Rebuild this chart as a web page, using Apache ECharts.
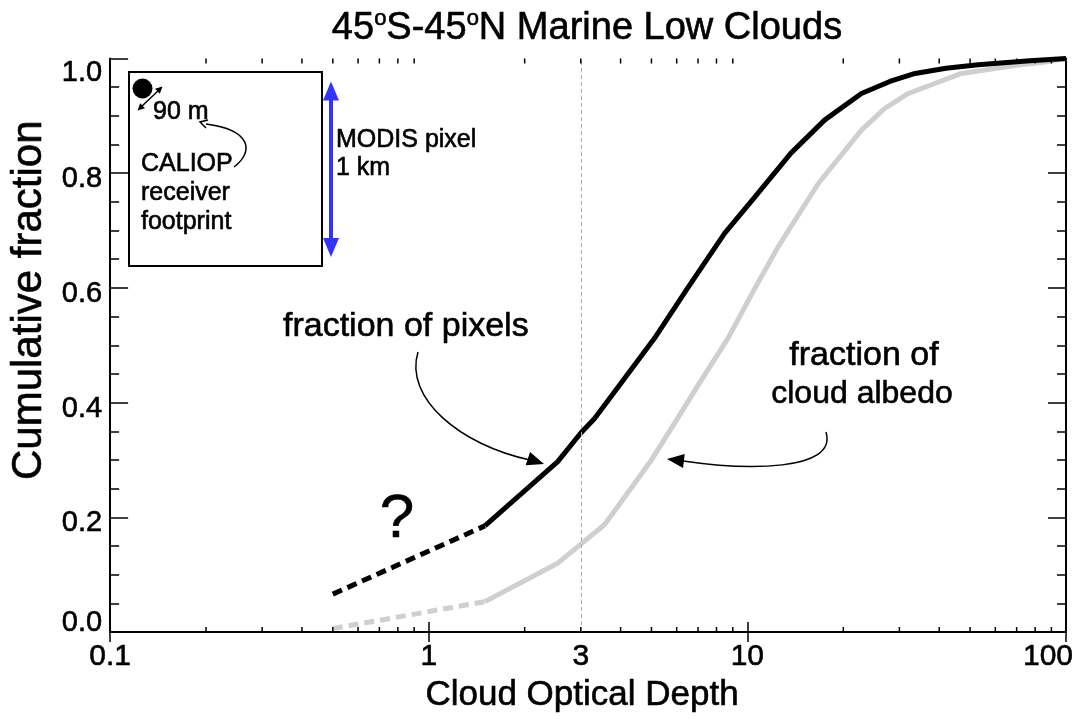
<!DOCTYPE html>
<html>
<head>
<meta charset="utf-8">
<script src="https://cdn.jsdelivr.net/npm/echarts@6/dist/echarts.min.js"></script>
<style>
html,body{margin:0;padding:0;background:#fff;}
#chart{width:1078px;height:719px;}
</style>
</head>
<body>
<div id="chart"></div>
<script>
// ---- data ----
const pixDashTau  = [0.5, 1.5];
const pixDashFrac = [0.066, 0.185];
const pixTau  = [1.5, 2.54, 3.0, 3.31, 4.0, 5.11, 6.5, 8.48, 10.5, 13.7, 17.5, 22.8, 28, 33.6, 42, 53, 77, 100];
const pixFrac = [0.185, 0.297, 0.347, 0.372, 0.433, 0.512, 0.60, 0.695, 0.757, 0.835, 0.893, 0.939, 0.960, 0.974, 0.983, 0.989, 0.996, 1.0];
const albDashTau  = [0.5, 1.5];
const albDashFrac = [0.006, 0.053];
const albTau  = [1.5, 2.54, 3.03, 3.56, 4.02, 5.0, 6.0, 7.0, 8.69, 10.5, 12.5, 16.7, 22.8, 27, 32, 47, 70, 86, 100];
const albFrac = [0.053, 0.12, 0.155, 0.187, 0.227, 0.30, 0.37, 0.43, 0.512, 0.597, 0.672, 0.782, 0.875, 0.913, 0.939, 0.974, 0.988, 0.994, 1.0];
const refTau = 3;
const xMinorTicks = [0.2,0.3,0.4,0.5,0.6,0.7,0.8,0.9,2,3,4,5,6,7,8,9,20,30,40,50,60,70,80,90];
const titleText = '45{s|o}S-45{s|o}N Marine Low Clouds';
const xName = 'Cloud Optical Depth';
const yName = 'Cumulative fraction';

const zip = (a, b) => a.map((v, i) => [v, b[i]]);
const FONT = 'Liberation Sans, Arial, Helvetica, sans-serif';
const BW = 0.6; // slight stroke to mimic heavier glyphs

function arrowHead(tx, ty, dx, dy, len, hw, color) {
  const n = Math.hypot(dx, dy); dx /= n; dy /= n;
  const bx = tx - dx * len, by = ty - dy * len;
  return {type: 'polygon', shape: {points: [[tx, ty], [bx - dy * hw, by + dx * hw], [bx + dy * hw, by - dx * hw]]},
          style: {fill: color}, z: 100};
}
function txt(text, x, y, size, align) {
  return {type: 'text', z: 100, style: {text: text, x: x, y: y, fill: '#000', stroke: '#000', lineWidth: BW,
          font: size + 'px ' + FONT, textAlign: align || 'left', textVerticalAlign: 'middle'}};
}
function ts(size, extra) {
  return Object.assign({fontFamily: FONT, fontSize: size, color: '#000', textBorderColor: '#000', textBorderWidth: BW}, extra || {});
}

const chart = echarts.init(document.getElementById('chart'), null, {renderer: 'canvas'});
const axisLineStyle = {color: '#000', width: 2};
const option = {
  backgroundColor: '#fff',
  animation: false,
  title: {
    text: titleText, left: 582, top: 3, textAlign: 'center',
    textStyle: Object.assign(ts(38), {fontWeight: 'normal',
      rich: {s: ts(22, {padding: [0, 0, 19, 0]})}})
  },
  grid: {left: 110, right: 12, top: 58.5, bottom: 87, containLabel: false},
  xAxis: [{
    type: 'log', logBase: 10, min: 0.1, max: 100, position: 'bottom',
    name: xName, nameLocation: 'middle', nameGap: 40,
    nameTextStyle: ts(35, {padding: [0, 12, 0, 0]}),
    axisLine: {show: true, lineStyle: axisLineStyle},
    axisTick: {show: true, inside: true, length: 10, lineStyle: {color: '#000', width: 1.5}},
    axisLabel: Object.assign(ts(30), {margin: 10,
      formatter: v => (v >= 100 ? '{r|' + v + '}' : String(v)),
      rich: {r: ts(30, {padding: [0, 36, 0, 0]})}}),
    splitLine: {show: false}
  }, {
    type: 'log', logBase: 10, min: 0.1, max: 100, position: 'top',
    axisLine: {show: true, lineStyle: axisLineStyle},
    axisTick: {show: true, inside: true, length: 10, lineStyle: {color: '#000', width: 1.5}},
    axisLabel: {show: false}, splitLine: {show: false}
  }],
  yAxis: [{
    type: 'value', min: 0, max: 1, interval: 0.2, position: 'left',
    name: yName, nameLocation: 'middle', nameGap: 57,
    nameTextStyle: ts(42, {padding: [0, 0, 0, 90]}),
    axisLine: {show: true, lineStyle: axisLineStyle},
    axisTick: {show: true, inside: true, length: 18, lineStyle: {color: '#000', width: 1.5}},
    minorTick: {show: true, splitNumber: 4, length: 9, lineStyle: {color: '#000', width: 1.5}},
    axisLabel: Object.assign(ts(29), {margin: 8,
      formatter: v => {
        const s = v.toFixed(1);
        if (v >= 1) return '{d|' + s + '}';
        if (v <= 0) return '{u|' + s + '}';
        return '{m|' + s + '}';
      },
      rich: {
        d: ts(29, {padding: [28, 0, 0, 0]}),
        u: ts(29, {padding: [0, 0, 18, 0]}),
        m: ts(29, {padding: [12, 0, 0, 0]})
      }}),
    splitLine: {show: false}
  }, {
    type: 'value', min: 0, max: 1, interval: 0.2, position: 'right',
    axisLine: {show: true, lineStyle: axisLineStyle},
    axisTick: {show: true, inside: true, length: 18, lineStyle: {color: '#000', width: 1.5}},
    minorTick: {show: true, splitNumber: 4, length: 9, lineStyle: {color: '#000', width: 1.5}},
    axisLabel: {show: false}, splitLine: {show: false}
  }],
  series: [
    {
      type: 'custom', xAxisIndex: 0, yAxisIndex: 0, silent: true, z: 5,
      data: xMinorTicks.map(v => [v, 0]),
      renderItem: (params, api) => {
        const b = api.coord([api.value(0), 0]);
        const t = api.coord([api.value(0), 1]);
        return {type: 'group', children: [
          {type: 'line', shape: {x1: b[0], y1: b[1], x2: b[0], y2: b[1] - 5}, style: {stroke: '#000', lineWidth: 1.5}},
          {type: 'line', shape: {x1: t[0], y1: t[1], x2: t[0], y2: t[1] + 5}, style: {stroke: '#000', lineWidth: 1.5}}
        ]};
      }
    },
    {
      type: 'line', data: zip(albDashTau, albDashFrac), symbol: 'none', z: 3,
      lineStyle: {color: '#cfcfcf', width: 5, type: [10, 6]},
      markLine: {
        silent: true, symbol: ['none', 'none'], animation: false,
        lineStyle: {color: '#aaaaaa', width: 1, type: [4, 3]},
        label: Object.assign(ts(30), {show: true, position: 'start', formatter: '3', distance: 10}),
        data: [{xAxis: refTau}]
      }
    },
    {type: 'line', data: zip(albTau, albFrac), symbol: 'none', z: 3,
      lineStyle: {color: '#cfcfcf', width: 5, join: 'round'}},
    {type: 'line', data: zip(pixDashTau, pixDashFrac), symbol: 'none', z: 4,
      lineStyle: {color: '#000', width: 5, type: [10, 6]}},
    {type: 'line', data: zip(pixTau, pixFrac), symbol: 'none', z: 4,
      lineStyle: {color: '#000', width: 5, join: 'round'}}
  ],
  graphic: [
    // inset box
    {type: 'rect', z: 90, shape: {x: 129, y: 72, width: 193, height: 194}, style: {fill: '#fff', stroke: '#000', lineWidth: 2}},
    {type: 'circle', z: 100, shape: {cx: 142.5, cy: 88.5, r: 10}, style: {fill: '#000'}},
    {type: 'line', z: 100, shape: {x1: 141, y1: 107, x2: 159, y2: 90}, style: {stroke: '#000', lineWidth: 1.5}},
    arrowHead(137.5, 110.5, -1, 0.95, 7, 3.5, '#000'),
    arrowHead(162.5, 86.5, 1, -0.95, 7, 3.5, '#000'),
    txt('90 m', 153, 112, 25),
    {type: 'bezierCurve', z: 100, shape: {x1: 234, y1: 167, cpx1: 254, cpy1: 152, cpx2: 252, cpy2: 130, x2: 206, y2: 124},
      style: {stroke: '#000', lineWidth: 1.5, fill: null}},
    {type: 'polyline', z: 100, shape: {points: [[208, 120], [200, 122], [206, 128]]}, style: {stroke: '#000', lineWidth: 1.5, fill: null}},
    txt('CALIOP', 141, 164, 25),
    txt('receiver', 141, 193, 25),
    txt('footprint', 141, 222, 25),
    // MODIS pixel arrow
    {type: 'line', z: 100, shape: {x1: 331, y1: 96, x2: 331, y2: 242}, style: {stroke: '#3333ff', lineWidth: 4}},
    arrowHead(331, 81.5, 0, -1, 19, 8, '#3333ff'),
    arrowHead(331, 257, 0, 1, 19, 8, '#3333ff'),
    txt('MODIS pixel', 336, 140, 25),
    txt('1 km', 336, 168, 25),
    // annotations
    txt('fraction of pixels', 283, 327, 34),
    {type: 'bezierCurve', z: 100, shape: {x1: 418, y1: 352, cpx1: 404, cpy1: 398, cpx2: 460, cpy2: 445, x2: 530, y2: 460},
      style: {stroke: '#000', lineWidth: 1.5, fill: null}},
    arrowHead(544, 464, 1, 0.33, 17, 7, '#000'),
    txt('fraction of', 864, 356, 34, 'center'),
    txt('cloud albedo', 862, 394, 32, 'center'),
    {type: 'bezierCurve', z: 100, shape: {x1: 826, y1: 432, cpx1: 838, cpy1: 472, cpx2: 745, cpy2: 470, x2: 683, y2: 461},
      style: {stroke: '#000', lineWidth: 1.5, fill: null}},
    arrowHead(667, 459, -1, -0.12, 17, 7, '#000'),
    txt('?', 397, 520, 62, 'center')
  ]
};
chart.setOption(option);
</script>
</body>
</html>
